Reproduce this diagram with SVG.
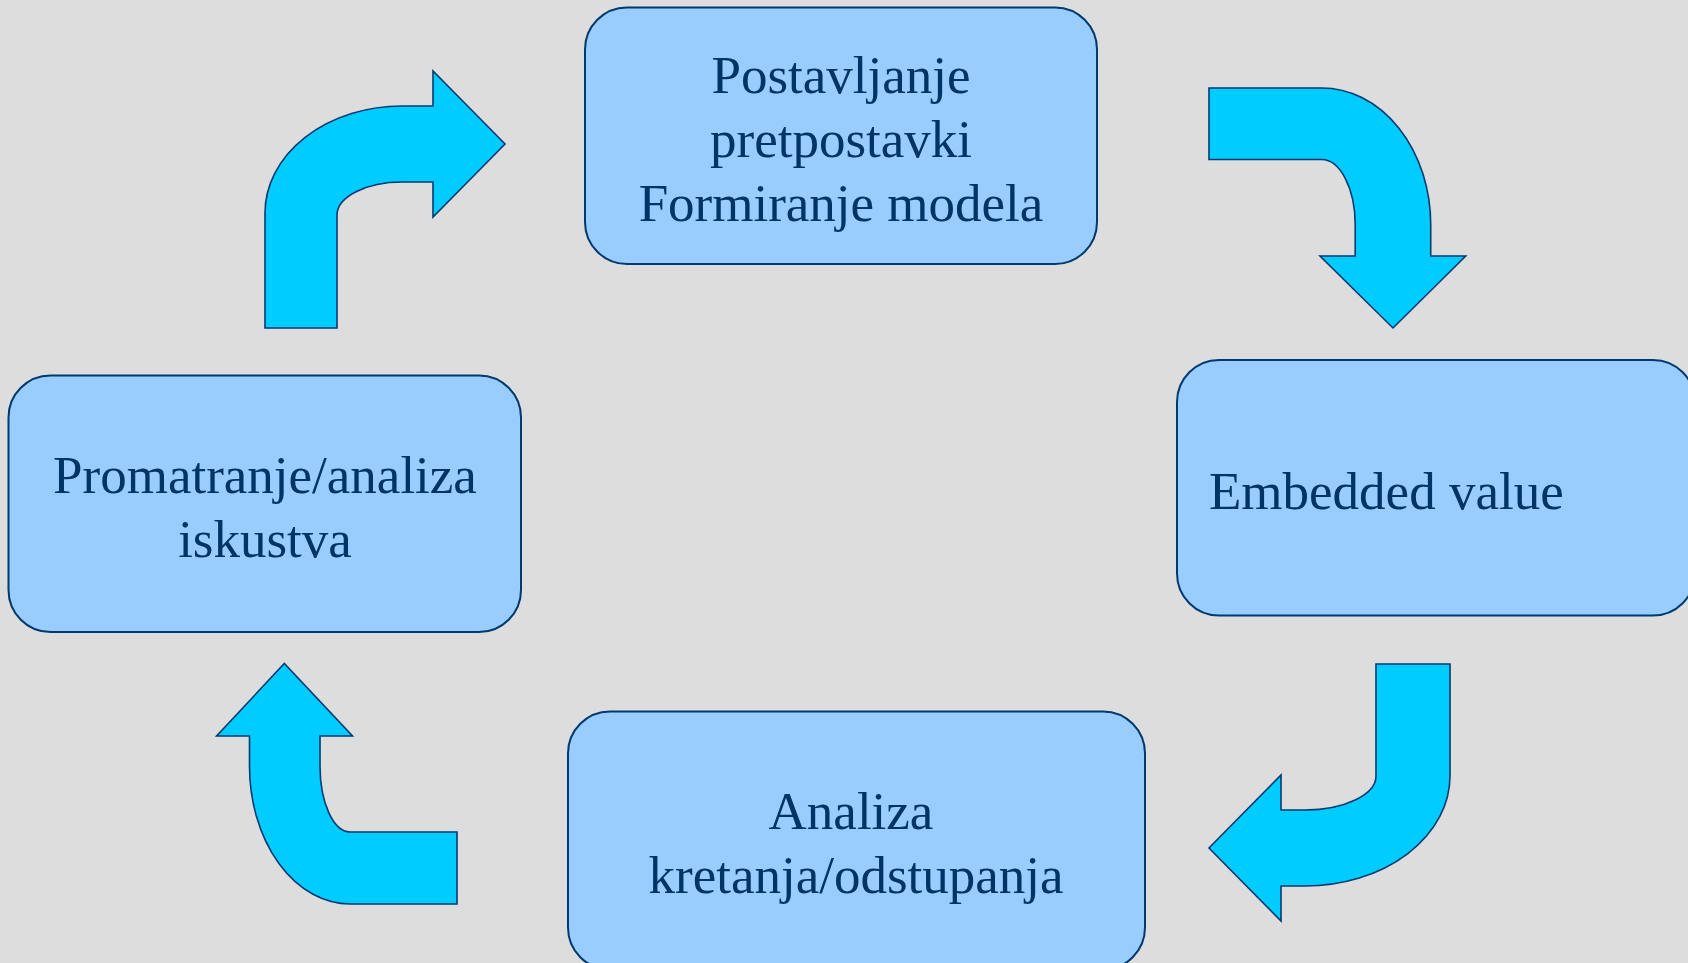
<svg xmlns="http://www.w3.org/2000/svg" width="1688" height="963" viewBox="0 0 1688 963">
<style>
.box{fill:#99CCFF;stroke:#003A70;stroke-width:2}
.arr{fill:#00CCFF;stroke:#003A70;stroke-width:1.6;stroke-linejoin:miter}
.t{font-family:"Liberation Serif","Times New Roman",serif;font-size:53px;fill:#003366}
.c{text-anchor:middle}
</style>
<rect x="0" y="0" width="1688" height="963" fill="#DDDDDD"/>
<g id="node-postavljanje">
<rect class="box" x="585" y="7.5" width="512" height="256.5" rx="42" ry="42"/>
<text class="t c" x="841" y="93">Postavljanje</text>
<text class="t c" x="841" y="157">pretpostavki</text>
<text class="t c" x="841" y="221">Formiranje modela</text>
</g>
<g id="node-embedded">
<rect class="box" x="1177" y="360" width="518" height="255.5" rx="42" ry="42"/>
<text class="t" x="1209" y="509">Embedded value</text>
</g>
<g id="node-analiza">
<rect class="box" x="568" y="711.5" width="577" height="258" rx="42" ry="42"/>
<text class="t c" x="851" y="829">Analiza</text>
<text class="t c" x="856" y="893">kretanja/odstupanja</text>
</g>
<g id="node-promatranje">
<rect class="box" x="8.5" y="375.5" width="512.5" height="256.5" rx="42" ry="42"/>
<text class="t c" x="265" y="493">Promatranje/analiza</text>
<text class="t c" x="265" y="557">iskustva</text>
</g>
<g id="connectors">
<path class="arr" d="M265,328 L265,213 A137,107 0 0 1 402,106 L433,106 L433,71 L505,144 L433,217 L433,182 L402,182 A65,33 0 0 0 337,215 L337,328 Z"/>
<path class="arr" d="M1209,88 L1321.6,88 A109,136.6 0 0 1 1430.7,224.6 L1430.7,256 L1465.7,256 L1393,328 L1320,256 L1355.2,256 L1355.2,224.6 A33.6,65 0 0 0 1321.6,159.5 L1209,159.5 Z"/>
<path class="arr" d="M1376,664 L1450,664 L1450,776 A145,110 0 0 1 1305,886 L1281,886 L1281,921 L1209,848 L1281,775 L1281,810 L1305,810 A71,34 0 0 0 1376,776 Z"/>
<path class="arr" d="M457,832 L457,904 L350,904 A100.5,138 0 0 1 249.5,766 L249.5,736 L216.6,736 L284.3,663.5 L352.5,736 L320,736 L320,766 A30,66 0 0 0 350,832 Z"/>
</g>
</svg>
